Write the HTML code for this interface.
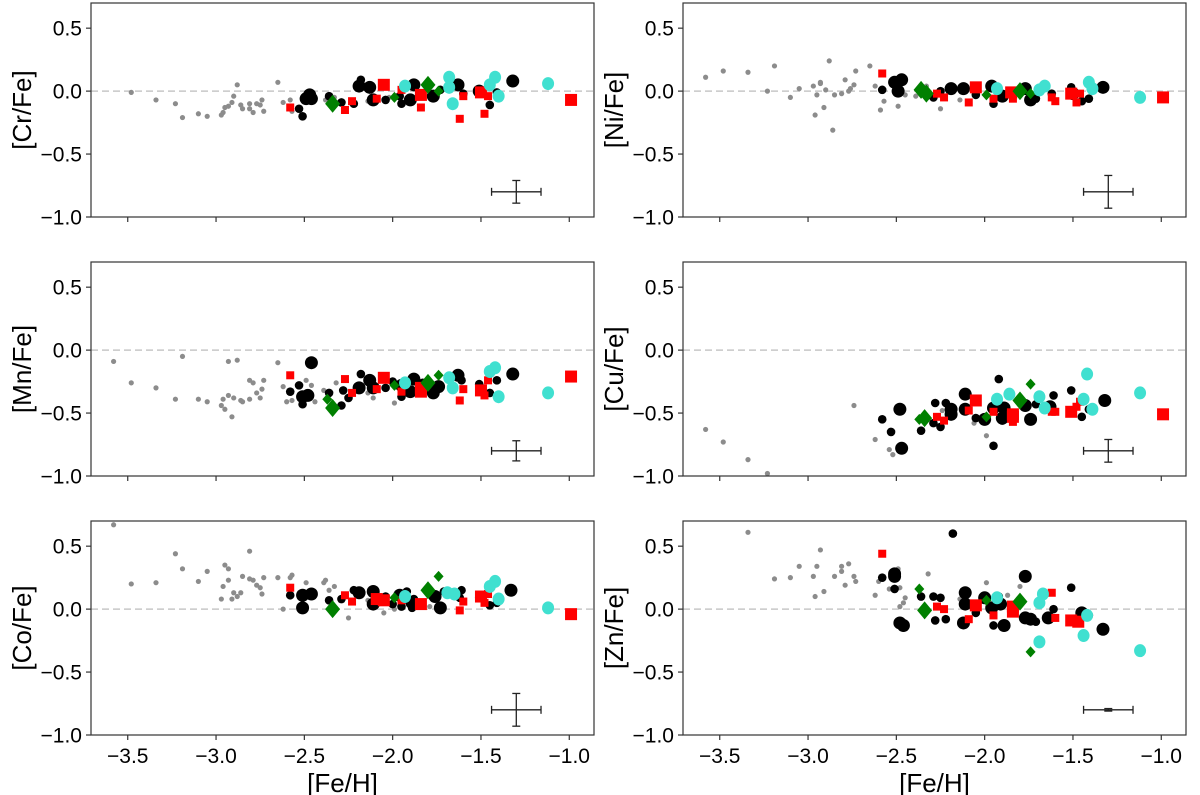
<!DOCTYPE html>
<html><head><meta charset="utf-8">
<style>
html,body{margin:0;padding:0;background:#fff;}
svg{display:block;font-family:"Liberation Sans",sans-serif;}
</style></head>
<body>
<svg id="fig" width="1200" height="795" viewBox="0 0 1200 795" xmlns="http://www.w3.org/2000/svg"></svg>
<script>
// ---- data: [Fe/H], [X/Fe] pairs ----
const xTicks = [-3.5,-3.0,-2.5,-2.0,-1.5,-1.0];
const xTickLabels = ["−3.5","−3.0","−2.5","−2.0","−1.5","−1.0"];
const yTicks = [0.5,0.0,-0.5,-1.0];
const yTickLabels = ["0.5","0.0","−0.5","−1.0"];
const panelNames = ["Cr","Ni","Mn","Cu","Co","Zn"];
const errY = [0.09,0.13,0.08,0.09,0.13,0.01];
const errX = [0.14,0.14,0.14,0.14,0.14,0.14];

const crGray=[[-3.48,-0.01],[-3.34,-0.07],[-3.23,-0.10],[-3.19,-0.21],[-3.10,-0.18],[-3.05,-0.20],[-2.97,-0.19],[-2.96,-0.17],[-2.95,-0.13],[-2.93,-0.12],[-2.91,-0.09],[-2.90,-0.04],[-2.88,0.05],[-2.86,-0.11],[-2.85,-0.14],[-2.81,-0.10],[-2.81,-0.14],[-2.79,-0.17],[-2.77,-0.10],[-2.75,-0.11],[-2.74,-0.07],[-2.73,-0.16],[-2.65,0.07],[-2.62,-0.09],[-2.58,-0.07],[-2.57,-0.16],[-2.38,-0.07],[-2.33,-0.05],[-2.14,-0.08],[-2.02,-0.05],[-1.88,-0.06]];
const crBlackBig=[[-2.49,-0.06],[-2.47,-0.03],[-2.46,-0.06],[-2.19,0.04],[-2.13,0.03],[-2.11,-0.07],[-1.90,-0.07],[-1.88,0.05],[-1.77,-0.04],[-1.63,0.05],[-1.32,0.08],[-1.51,0.0]];
const crBlackSmall=[[-2.53,-0.14],[-2.51,-0.20],[-2.36,-0.04],[-2.29,-0.09],[-2.22,-0.10],[-2.18,0.09],[-2.04,-0.07],[-1.95,-0.10],[-1.96,-0.04],[-1.60,-0.02],[-1.45,-0.11],[-1.41,-0.01],[-1.73,0.01]];
const crRedBig=[[-2.05,0.05],[-1.84,-0.03],[-1.50,-0.01],[-0.99,-0.07]];
const crRedSmall=[[-2.58,-0.13],[-2.27,-0.15],[-2.23,-0.08],[-2.09,-0.06],[-1.95,0.01],[-1.84,-0.13],[-1.62,-0.22],[-1.60,-0.04],[-1.48,-0.18],[-1.46,-0.04]];
const crGreenBig=[[-2.34,-0.10],[-1.80,0.05]];
const crGreenSmall=[[-1.99,-0.05],[-1.74,0.0]];
const crCyan=[[-1.93,0.04],[-1.68,0.11],[-1.68,0.03],[-1.66,-0.10],[-1.45,0.05],[-1.42,0.11],[-1.40,-0.04],[-1.12,0.06]];

const niGray=[[-3.58,0.11],[-3.48,0.16],[-3.34,0.15],[-3.19,0.20],[-3.23,0.0],[-3.10,-0.05],[-3.05,0.02],[-2.97,0.04],[-2.96,-0.19],[-2.95,-0.03],[-2.93,0.06],[-2.93,0.07],[-2.91,-0.13],[-2.90,0.01],[-2.88,0.24],[-2.86,-0.31],[-2.85,-0.03],[-2.81,-0.02],[-2.79,0.09],[-2.77,0.0],[-2.76,0.02],[-2.74,0.05],[-2.73,0.16],[-2.65,0.20],[-2.62,0.04],[-2.59,-0.15],[-2.57,-0.08],[-2.49,-0.12],[-2.45,-0.03],[-2.39,-0.04],[-2.33,0.04],[-2.25,-0.14],[-2.14,-0.07]];
const niBlackBig=[[-2.51,0.07],[-2.49,0.0],[-2.47,0.09],[-2.19,0.02],[-2.12,0.02],[-1.96,0.04],[-1.90,-0.04],[-1.77,0.02],[-1.74,-0.07],[-1.33,0.03],[-1.50,-0.02]];
const niBlackSmall=[[-2.58,0.01],[-2.29,-0.05],[-2.25,0.0],[-2.05,-0.03],[-1.95,-0.10],[-1.92,-0.01],[-1.71,-0.06],[-1.62,-0.02],[-1.51,0.03],[-1.45,-0.08],[-1.41,-0.06]];
const niRedBig=[[-2.05,0.03],[-1.85,-0.01],[-1.51,-0.02],[-0.99,-0.05]];
const niRedSmall=[[-2.58,0.14],[-2.27,-0.02],[-2.23,-0.05],[-2.09,-0.09],[-1.95,-0.06],[-1.84,-0.06],[-1.62,-0.05],[-1.60,-0.08],[-1.48,-0.09],[-1.46,-0.02]];
const niGreenBig=[[-2.36,0.01],[-2.33,-0.02],[-1.80,0.0]];
const niGreenSmall=[[-1.99,-0.03],[-1.74,-0.02]];
const niCyan=[[-1.93,0.02],[-1.69,0.01],[-1.66,0.04],[-1.41,0.07],[-1.39,0.02],[-1.12,-0.05]];

const mnGray=[[-3.58,-0.09],[-3.48,-0.26],[-3.34,-0.30],[-3.19,-0.05],[-3.23,-0.39],[-3.10,-0.39],[-3.05,-0.41],[-2.97,-0.44],[-2.96,-0.39],[-2.95,-0.47],[-2.93,-0.09],[-2.93,-0.36],[-2.91,-0.53],[-2.90,-0.38],[-2.88,-0.08],[-2.86,-0.40],[-2.85,-0.41],[-2.81,-0.39],[-2.81,-0.24],[-2.79,-0.26],[-2.77,-0.34],[-2.75,-0.38],[-2.74,-0.31],[-2.73,-0.24],[-2.65,-0.10],[-2.62,-0.29],[-2.60,-0.41],[-2.57,-0.40],[-2.49,-0.24],[-2.46,-0.28],[-2.44,-0.41],[-2.39,-0.32],[-2.32,-0.26],[-2.11,-0.38],[-2.14,-0.34],[-1.99,-0.42]];
const mnBlackBig=[[-2.46,-0.10],[-2.51,-0.37],[-2.48,-0.36],[-2.19,-0.30],[-2.13,-0.24],[-2.11,-0.30],[-1.88,-0.23],[-1.90,-0.33],[-1.77,-0.34],[-1.74,-0.29],[-1.63,-0.20],[-1.32,-0.19],[-1.95,-0.28]];
const mnBlackSmall=[[-2.58,-0.33],[-2.53,-0.28],[-2.51,-0.43],[-2.36,-0.34],[-2.29,-0.44],[-2.28,-0.32],[-2.25,-0.38],[-2.18,-0.19],[-2.04,-0.30],[-1.95,-0.37],[-2.00,-0.25],[-1.83,-0.26],[-1.61,-0.24],[-1.51,-0.27],[-1.45,-0.34],[-1.41,-0.24]];
const mnRedBig=[[-2.05,-0.22],[-1.84,-0.30],[-1.84,-0.33],[-1.50,-0.32],[-0.99,-0.21]];
const mnRedSmall=[[-2.58,-0.20],[-2.27,-0.23],[-2.23,-0.34],[-2.09,-0.31],[-1.95,-0.33],[-1.62,-0.40],[-1.60,-0.31],[-1.48,-0.36],[-1.46,-0.24]];
const mnGreenBig=[[-2.34,-0.46],[-1.80,-0.26]];
const mnGreenSmall=[[-2.37,-0.39],[-1.99,-0.28],[-1.74,-0.20]];
const mnCyan=[[-1.93,-0.26],[-1.68,-0.22],[-1.66,-0.30],[-1.45,-0.17],[-1.42,-0.14],[-1.40,-0.37],[-1.12,-0.34]];

const cuGray=[[-3.58,-0.63],[-3.48,-0.73],[-3.34,-0.87],[-3.23,-0.98],[-2.74,-0.44],[-2.62,-0.71],[-2.54,-0.79],[-2.52,-0.83],[-2.24,-0.48],[-2.06,-0.58],[-1.99,-0.68]];
const cuBlackBig=[[-2.48,-0.47],[-2.47,-0.78],[-2.19,-0.51],[-2.19,-0.47],[-2.11,-0.47],[-2.11,-0.35],[-2.00,-0.55],[-1.95,-0.46],[-1.90,-0.54],[-1.89,-0.46],[-1.74,-0.55],[-1.77,-0.44],[-1.32,-0.40],[-1.63,-0.45]];
const cuBlackSmall=[[-2.58,-0.55],[-2.53,-0.65],[-2.36,-0.64],[-2.29,-0.58],[-2.28,-0.42],[-2.25,-0.61],[-2.22,-0.42],[-2.05,-0.54],[-1.95,-0.76],[-1.92,-0.23],[-1.90,-0.56],[-1.71,-0.43],[-1.61,-0.36],[-1.51,-0.32],[-1.45,-0.53],[-1.41,-0.47]];
const cuRedBig=[[-2.05,-0.40],[-1.84,-0.51],[-1.84,-0.53],[-1.51,-0.49],[-0.99,-0.51]];
const cuRedSmall=[[-2.27,-0.53],[-2.23,-0.56],[-2.09,-0.48],[-1.95,-0.49],[-1.84,-0.57],[-1.62,-0.49],[-1.60,-0.49],[-1.48,-0.45],[-1.46,-0.41]];
const cuGreenBig=[[-2.34,-0.54],[-1.80,-0.40]];
const cuGreenSmall=[[-2.37,-0.55],[-1.99,-0.53],[-1.74,-0.27]];
const cuCyan=[[-1.93,-0.39],[-1.86,-0.35],[-1.69,-0.37],[-1.66,-0.46],[-1.44,-0.39],[-1.42,-0.19],[-1.39,-0.47],[-1.12,-0.34]];

const coGray=[[-3.58,0.67],[-3.48,0.20],[-3.34,0.21],[-3.23,0.44],[-3.19,0.32],[-3.10,0.22],[-3.05,0.30],[-2.97,0.08],[-2.96,0.18],[-2.95,0.35],[-2.93,0.32],[-2.93,0.23],[-2.91,0.08],[-2.90,0.13],[-2.88,0.10],[-2.86,0.13],[-2.85,0.26],[-2.81,0.46],[-2.81,0.24],[-2.79,0.23],[-2.77,0.19],[-2.75,0.17],[-2.74,0.12],[-2.73,0.25],[-2.65,0.25],[-2.62,0.0],[-2.58,0.25],[-2.57,0.27],[-2.49,0.21],[-2.39,0.21],[-2.38,0.23],[-2.36,0.15],[-2.33,0.18],[-2.25,-0.07],[-2.14,0.07],[-2.05,-0.03],[-1.99,0.0],[-1.79,0.02]];
const coBlackBig=[[-2.51,0.01],[-2.51,0.11],[-2.46,0.12],[-2.19,0.13],[-2.11,0.14],[-2.11,0.04],[-1.96,0.11],[-1.89,0.05],[-1.73,0.01],[-1.33,0.15],[-1.76,0.10]];
const coBlackSmall=[[-2.58,0.11],[-2.36,0.07],[-2.29,0.08],[-2.22,0.15],[-2.04,0.10],[-2.00,0.04],[-1.95,0.02],[-1.92,0.14],[-1.89,0.01],[-1.88,0.08],[-1.61,0.15],[-1.62,0.09],[-1.51,0.09],[-1.45,0.03],[-1.41,0.05],[-1.71,0.14]];
const coRedBig=[[-2.05,0.07],[-1.84,0.04],[-1.50,0.10],[-0.99,-0.04],[-2.09,0.08]];
const coRedSmall=[[-2.58,0.17],[-2.27,0.11],[-2.23,0.06],[-1.95,0.07],[-1.62,-0.01],[-1.60,0.06],[-1.48,0.05],[-1.46,0.12]];
const coGreenBig=[[-2.34,0.0],[-1.80,0.15]];
const coGreenSmall=[[-1.99,0.09],[-1.74,0.26]];
const coCyan=[[-1.93,0.10],[-1.69,0.13],[-1.65,0.12],[-1.45,0.18],[-1.42,0.22],[-1.40,0.08],[-1.12,0.01]];

const znGray=[[-3.34,0.61],[-3.19,0.24],[-3.10,0.25],[-3.05,0.34],[-2.97,0.26],[-2.96,0.10],[-2.95,0.34],[-2.93,0.47],[-2.91,0.14],[-2.85,0.26],[-2.81,0.34],[-2.81,0.30],[-2.79,0.19],[-2.77,0.36],[-2.74,0.26],[-2.73,0.22],[-2.62,0.11],[-2.60,0.22],[-2.54,0.16],[-2.49,0.32],[-2.48,0.17],[-2.48,0.02],[-2.46,0.05],[-2.45,0.09],[-2.32,0.28],[-2.14,0.08],[-1.99,0.21],[-1.87,0.11],[-1.80,0.18]];
const znBlackBig=[[-2.51,0.26],[-2.51,0.28],[-2.48,-0.11],[-2.46,-0.13],[-2.12,-0.11],[-2.11,0.13],[-2.11,0.04],[-2.00,0.09],[-1.96,0.01],[-1.91,0.04],[-1.89,-0.13],[-1.77,0.26],[-1.77,-0.07],[-1.74,-0.08],[-1.33,-0.16],[-1.64,-0.07],[-1.45,-0.03]];
const znBlackSmall=[[-2.58,0.25],[-2.51,0.16],[-2.36,0.10],[-2.29,0.10],[-2.25,0.09],[-2.28,-0.09],[-2.22,-0.08],[-2.18,0.60],[-2.05,-0.03],[-1.95,-0.13],[-1.92,0.10],[-1.71,-0.10],[-1.61,0.0],[-1.51,0.17],[-1.41,-0.05]];
const znRedBig=[[-2.05,0.03],[-1.84,0.02],[-1.84,-0.02],[-1.51,-0.09],[-1.47,-0.10]];
const znRedSmall=[[-2.58,0.44],[-2.27,0.02],[-2.23,0.0],[-2.09,-0.08],[-1.95,-0.05],[-1.62,0.13],[-1.60,-0.07]];
const znGreenBig=[[-2.34,-0.01],[-1.80,0.06]];
const znGreenSmall=[[-2.37,0.16],[-1.99,0.07],[-1.74,-0.34]];
const znCyan=[[-1.93,0.09],[-1.69,0.05],[-1.67,0.12],[-1.69,-0.26],[-1.44,-0.21],[-1.42,-0.05],[-1.12,-0.33]];

const panelData = [
 [crGray,crBlackBig,crBlackSmall,crRedBig,crRedSmall,crGreenBig,crGreenSmall,crCyan],
 [niGray,niBlackBig,niBlackSmall,niRedBig,niRedSmall,niGreenBig,niGreenSmall,niCyan],
 [mnGray,mnBlackBig,mnBlackSmall,mnRedBig,mnRedSmall,mnGreenBig,mnGreenSmall,mnCyan],
 [cuGray,cuBlackBig,cuBlackSmall,cuRedBig,cuRedSmall,cuGreenBig,cuGreenSmall,cuCyan],
 [coGray,coBlackBig,coBlackSmall,coRedBig,coRedSmall,coGreenBig,coGreenSmall,coCyan],
 [znGray,znBlackBig,znBlackSmall,znRedBig,znRedSmall,znGreenBig,znGreenSmall,znCyan]
];

// ---- layout ----
const NS="http://www.w3.org/2000/svg";
const svg=document.getElementById("fig");
const colX=[91,683], PW=503, rowY=[3,262,521], PH=214;
const XMIN=-3.708, XMAX=-0.86, YMIN=-1.0, YMAX=0.7;
function mk(tag,attrs,parent){const e=document.createElementNS(NS,tag);for(const k in attrs)e.setAttribute(k,attrs[k]);(parent||svg).appendChild(e);return e;}

panelNames.forEach((el,i)=>{
  const col=i%2,row=Math.floor(i/2);
  const x0=colX[col],y0=rowY[row];
  const sx=v=>x0+(v-XMIN)/(XMAX-XMIN)*PW;
  const sy=v=>y0+(YMAX-v)/(YMAX-YMIN)*PH;
  const g=mk("g",{});
  
  
  const zl=mk("line",{x1:x0,x2:x0+PW,y1:sy(0),y2:sy(0),stroke:"#c8c8c8","stroke-width":1.5,"stroke-dasharray":"7,4"},g);
  
  
  const [gray,bB,bS,rB,rS,gB,gS,cy]=panelData[i];
  const mg=mk("g",{},g);
  
  
  gray.forEach(p=>{const c=mk("circle",{cx:sx(p[0]),cy:sy(p[1]),r:2.6,fill:"#8c8c8c"},mg);
    
    });
  bS.forEach(p=>{const c=mk("circle",{cx:sx(p[0]),cy:sy(p[1]),r:4.3,fill:"#000"},mg);
    
    });
  bB.forEach(p=>{const c=mk("circle",{cx:sx(p[0]),cy:sy(p[1]),r:6.5,fill:"#000"},mg);
    
    });
  rS.forEach(p=>{const c=mk("rect",{x:sx(p[0])-4,y:sy(p[1])-4,width:8,height:8,fill:"#ff0000"},mg);
    
    });
  rB.forEach(p=>{const c=mk("rect",{x:sx(p[0])-6,y:sy(p[1])-6,width:12,height:12,fill:"#ff0000"},mg);
    
    });
  gS.forEach(p=>{const X=sx(p[0]),Y=sy(p[1]);const c=mk("polygon",{points:`${X},${Y-5.5} ${X+5},${Y} ${X},${Y+5.5} ${X-5},${Y}`,fill:"#008000"},mg);
    
    });
  gB.forEach(p=>{const X=sx(p[0]),Y=sy(p[1]);const c=mk("polygon",{points:`${X},${Y-9} ${X+7.5},${Y} ${X},${Y+9} ${X-7.5},${Y}`,fill:"#008000"},mg);
    
    });
  cy.forEach(p=>{const c=mk("ellipse",{cx:sx(p[0]),cy:sy(p[1]),rx:6,ry:6.5,fill:"#40e0d0"},mg);
    
    });
  const ex=sx(-1.3),ey=sy(-0.8),dx=errX[i],dy=errY[i];
  const eb=mk("g",{stroke:"#222","stroke-width":1.3},g);
  
  
  mk("line",{x1:sx(-1.3-dx),x2:sx(-1.3+dx),y1:ey,y2:ey},eb);
  mk("line",{x1:ex,x2:ex,y1:sy(-0.8+dy),y2:sy(-0.8-dy)},eb);
  mk("line",{x1:sx(-1.3-dx),x2:sx(-1.3-dx),y1:ey-4,y2:ey+4},eb);
  mk("line",{x1:sx(-1.3+dx),x2:sx(-1.3+dx),y1:ey-4,y2:ey+4},eb);
  mk("line",{x1:ex-4,x2:ex+4,y1:sy(-0.8+dy),y2:sy(-0.8+dy)},eb);
  mk("line",{x1:ex-4,x2:ex+4,y1:sy(-0.8-dy),y2:sy(-0.8-dy)},eb);
  const fr=mk("rect",{x:x0,y:y0,width:PW,height:PH,fill:"none",stroke:"#333","stroke-width":1.2},g);
  
  
  yTicks.forEach((t,k)=>{
    mk("line",{x1:x0-5,x2:x0,y1:sy(t),y2:sy(t),stroke:"#333","stroke-width":1.2},g);
    const tx=mk("text",{x:x0-9,y:sy(t)+7.5,"text-anchor":"end","font-size":21,fill:"#000"},g);
    tx.textContent=yTickLabels[k];
    
    
  });
  xTicks.forEach((t,k)=>{
    mk("line",{x1:sx(t),x2:sx(t),y1:y0+PH,y2:y0+PH+5,stroke:"#333","stroke-width":1.2},g);
    if(row===2){
      const tx=mk("text",{x:sx(t),y:y0+PH+28,"text-anchor":"middle","font-size":21,fill:"#000"},g);
      tx.textContent=xTickLabels[k];
      
      
    }
  });
  const yl=mk("text",{x:0,y:0,"text-anchor":"middle","font-size":26,fill:"#000",transform:`translate(${x0-60},${y0+PH/2}) rotate(-90)`},g);
  yl.textContent="["+el+"/Fe]";
  
  
  if(row===2){
    const xl=mk("text",{x:x0+PW/2,y:y0+PH+57,"text-anchor":"middle","font-size":26,fill:"#000"},g);
    xl.textContent="[Fe/H]";
    
    
  }
});
</script>
</body></html>
